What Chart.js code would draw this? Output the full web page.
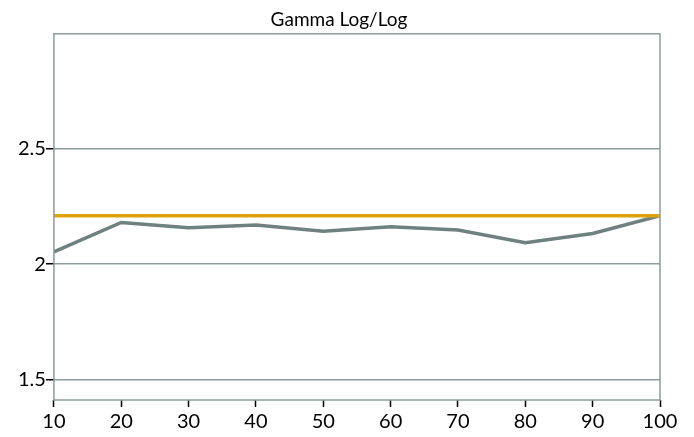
<!DOCTYPE html>
<html>
<head>
<meta charset="utf-8">
<script src="https://cdn.jsdelivr.net/npm/chart.js@4"></script>
<style>
  body { margin: 0; background: #fff; }
  #wrap { width: 694px; height: 437px; }
</style>
</head>
<body>
<div id="wrap"><canvas id="gammaChart"></canvas></div>
<script>
const levels = [10, 20, 30, 40, 50, 60, 70, 80, 90, 100];
const gammaValues = [2.053, 2.181, 2.158, 2.17, 2.143, 2.162, 2.148, 2.093, 2.133, 2.21];
const targetGamma = 2.21;
const yTicks = [1.5, 2, 2.5];

const gridColor = "#8c9c9c";

// box around the plot area
const frame = {
  id: "frame",
  afterDraw(chart) {
    const a = chart.chartArea;
    const c = chart.ctx;
    c.save();
    c.strokeStyle = gridColor;
    c.lineWidth = 1.5;
    c.strokeRect(a.left, a.top, a.right - a.left, a.bottom - a.top);
    c.restore();
  }
};

const ctx = document.getElementById("gammaChart").getContext("2d");

new Chart(ctx, {
  type: "line",
  data: {
    datasets: [
      {
        label: "Target",
        data: [levels[0], levels[levels.length - 1]].map(x => ({ x: x, y: targetGamma })),
        borderColor: "#e0a30c",
        borderWidth: 3.5,
        pointRadius: 0,
        tension: 0
      },
      {
        label: "Gamma",
        data: levels.map((x, i) => ({ x: x, y: gammaValues[i] })),
        borderColor: "#6f8080",
        borderWidth: 3.5,
        pointRadius: 0,
        tension: 0
      }
    ]
  },
  options: {
    responsive: true,
    maintainAspectRatio: false,
    animation: false,
    layout: { padding: { left: 18, right: 34, top: 0, bottom: 0 } },
    plugins: {
      legend: { display: false },
      tooltip: { enabled: false },
      title: {
        display: true,
        text: "Gamma Log/Log",
        color: "#000",
        font: { family: "Lato", size: 19, weight: "normal" },
        padding: { top: 8, bottom: 3 }
      }
    },
    scales: {
      x: {
        type: "linear",
        min: 10,
        max: 100,
        ticks: {
          stepSize: 10,
          color: "#000",
          font: { family: "Lato", size: 20 },
          padding: 3
        },
        grid: {
          drawOnChartArea: false,
          color: "#000",
          tickLength: 7,
          tickWidth: 1.5
        },
        border: { display: false }
      },
      y: {
        min: 1.41,
        max: 3.0,
        afterBuildTicks: axis => { axis.ticks = yTicks.map(v => ({ value: v })); },
        ticks: {
          color: "#000",
          font: { family: "Lato", size: 20 },
          padding: 0,
          callback: v => String(v)
        },
        grid: {
          color: gridColor,
          lineWidth: 1.5,
          tickColor: "#000",
          tickLength: 8
        },
        border: { display: false }
      }
    }
  },
  plugins: [frame]
});
</script>
</body>
</html>
